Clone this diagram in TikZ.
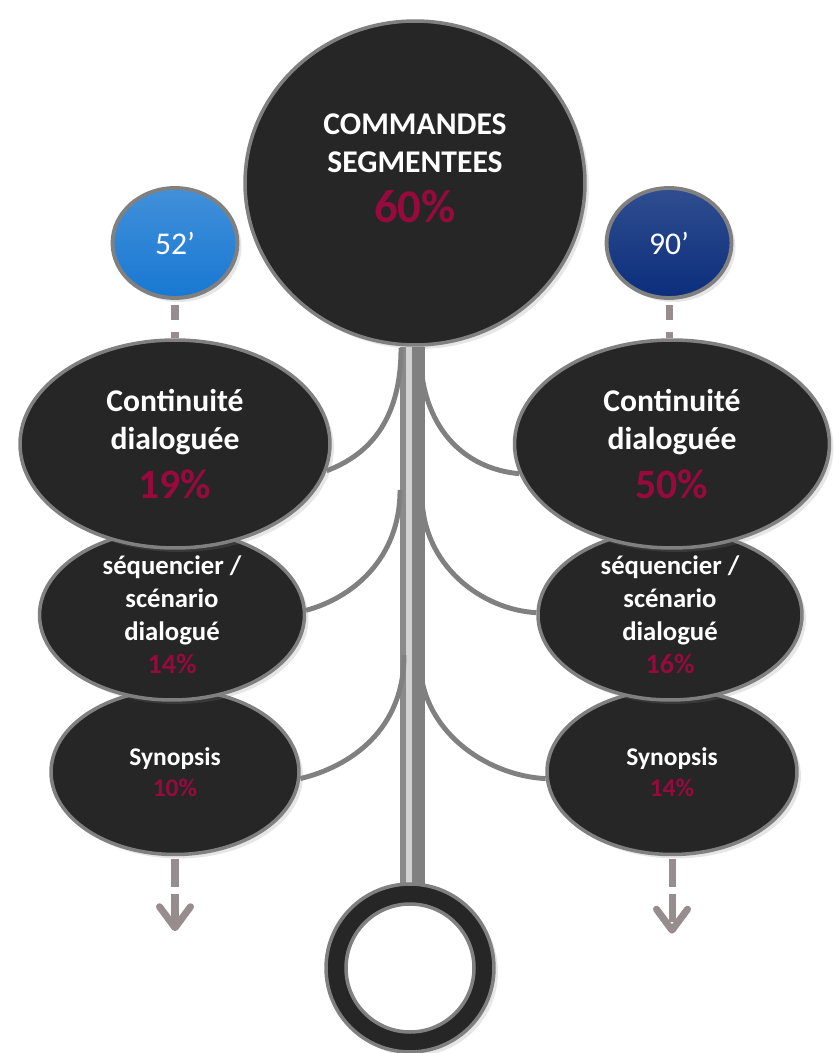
\documentclass[tikz,border=0pt]{standalone}
\usepackage{fontspec}
\setmainfont{Carlito}
\usepackage{xcolor}
\usepackage{tikz}
\usetikzlibrary{calc, shapes.geometric, positioning, arrows.meta, shadows}

\definecolor{fond}{HTML}{262626}
\definecolor{bord}{HTML}{808080}
\definecolor{bordeaux}{HTML}{960A3C}
\definecolor{mauve}{HTML}{978D8F}
\definecolor{bleuclair}{HTML}{1878D2}
\definecolor{bleunuit}{HTML}{0B2E7C}
\definecolor{tigeA}{HTML}{8A8A8A}
\definecolor{tigeB}{HTML}{D2D2D2}
\definecolor{tigeC}{HTML}{808080}

\newcommand{\taux}[2]{{\fontsize{#1}{#1}\selectfont\color{bordeaux}#2}}

\tikzset{
  ombre/.style={drop shadow={opacity=0.2, shadow xshift=0.08cm, shadow yshift=-0.08cm}},
  bulle/.style={ellipse, fill=fond, draw=bord, line width=2pt, text=white,
    align=center, inner sep=0pt, ombre},
  grand/.style={font=\bfseries\fontsize{18}{21.6}\selectfont},
  moyen/.style={font=\bfseries\fontsize{15.2}{18.8}\selectfont},
  petit/.style={font=\bfseries\fontsize{14.5}{17.6}\selectfont},
  pastille/.style={ellipse, draw=bord, line width=2.2pt, text=white,
    minimum width=2.5cm, minimum height=2.2cm, inner sep=0pt,
    font=\fontsize{18}{20}\selectfont, ombre},
  branche/.style={draw=tigeC, line width=2.8pt},
  amorce/.style={draw=mauve, line width=4pt, dash pattern=on 0.3cm off 0.24cm,
    shorten <=0.1cm},
  suite/.style={draw=mauve, line width=4pt, dash pattern=on 0.56cm off 0.14cm,
    shorten <=0.05cm, -{Straight Barb[length=0.42cm, width=0.62cm, round]}}
}

\begin{document}
\begin{tikzpicture}[x=0.02cm, y=-0.02cm]

    \useasboundingbox (0,0) rectangle (834,1053);

    % =================================================================
    % 1. BULLES DU BAS VERS LE HAUT (CHAQUE BULLE RECOUVRE CELLE DU DESSOUS)
    % =================================================================
    % --- Synopsis ---
    \node[bulle, petit, minimum width=4.96cm, minimum height=3.3cm] (syn10) at (175,772)
      {Synopsis\\\taux{14.5}{10\%}};
    \node[bulle, petit, minimum width=5.0cm, minimum height=3.3cm] (syn14) at (672,772)
      {Synopsis\\\taux{14.5}{14\%}};

    % --- Séquencier / scénario ---
    \node[bulle, moyen, minimum width=5.3cm, minimum height=3.4cm] (seq14) at (172,615)
      {séquencier /\\scénario\\dialogué\\\taux{16}{14\%}};
    \node[bulle, moyen, minimum width=5.28cm, minimum height=3.4cm] (seq16) at (670,615)
      {séquencier /\\scénario\\dialogué\\\taux{16}{16\%}};

    % --- Continuité dialoguée ---
    \node[bulle, grand, minimum width=6.2cm, minimum height=4.16cm] (cont19) at (175,444)
      {Continuité\\dialoguée\\[6pt]\taux{23.8}{19\%}};
    \node[bulle, grand, minimum width=6.3cm, minimum height=4.16cm] (cont50) at (672,444)
      {Continuité\\dialoguée\\[6pt]\taux{23.8}{50\%}};

    % --- Durées ---
    \node[pastille, top color=bleuclair!82!white, bottom color=bleuclair] (d52) at (175,243) {52’};
    \node[pastille, top color=bleunuit!85!white, bottom color=bleunuit] (d90) at (669,243) {90’};

    % --- Grande bulle centrale ---
    \node[bulle, grand, minimum width=6.8cm, minimum height=6.48cm] (cmd) at (415,183)
      {COMMANDES\\SEGMENTEES\\[7pt]\taux{26.7}{60\%\rule[-17pt]{0pt}{17pt}}};

    % =================================================================
    % 2. TIGE CENTRALE ET ANNEAU
    % =================================================================
    \coordinate (anneauC) at (410,968);
    \coordinate (tigeH) at (cmd.south);
    \coordinate (tigeBas) at ($(anneauC)+(0,-84)$);

    \fill[tigeA] ($(tigeH)+(-15,0)$) rectangle ($(tigeH |- tigeBas)+(-9,0)$);
    \fill[tigeB] ($(tigeH)+(-9,0)$) rectangle ($(tigeH |- tigeBas)+(-3,0)$);
    \fill[tigeC] ($(tigeH)+(-3,0)$) rectangle ($(tigeH |- tigeBas)+(10,0)$);

    \node[circle, fill=fond, draw=bord, line width=2pt, minimum size=3.36cm, ombre] (anneau) at (anneauC) {};
    \node[circle, fill=white, draw=bord, line width=2pt, minimum size=2.56cm] (trou) at (anneau) {};

    % =================================================================
    % 3. BRANCHES COURBES
    % =================================================================
    \coordinate (gA) at (401,348);
    \coordinate (dA) at (420,348);
    \coordinate (gB) at (400,490);
    \coordinate (dB) at (422,495);
    \coordinate (gC) at (404,655);
    \coordinate (dC) at (420,660);

    \draw[branche] (gA) .. controls +(0,75) and +(40,-15) .. (cont19.-10);
    \draw[branche] (dA) .. controls +(0,80) and +(-55,-5) .. (cont50.191);
    \draw[branche] (gB) .. controls +(0,70) and +(45,-12) .. (seq14.2);
    \draw[branche] (dB) .. controls +(0,70) and +(-55,-3) .. (seq16.179);
    \draw[branche] (gC) .. controls +(0,75) and +(50,-12) .. (syn10.-3);
    \draw[branche] (dC) .. controls +(0,70) and +(-60,-3) .. (syn14.183);

    % =================================================================
    % 4. POINTILLES ET FLECHES
    % =================================================================
    \draw[amorce] (d52.south) -- (d52.south |- cont19.north);
    \draw[amorce] (d90.south) -- (d90.south |- cont50.north);

    \coordinate[below=1.5cm of syn10.south] (finG);
    \coordinate[below=1.55cm of syn14.south] (finD);
    \draw[suite] (syn10.south) -- (finG);
    \draw[suite] (syn14.south) -- (finD);

\end{tikzpicture}
\end{document}
